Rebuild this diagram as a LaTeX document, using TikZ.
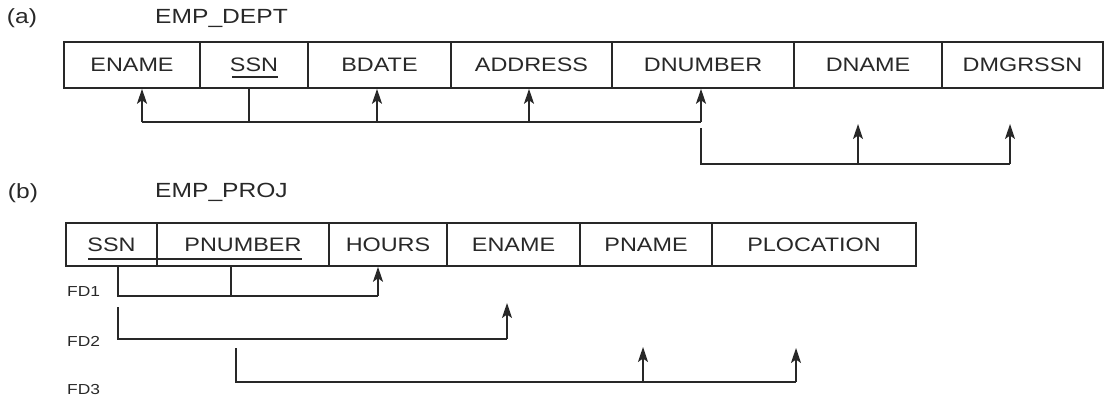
\documentclass[tikz,border=0pt]{standalone}
\usepackage{fontspec}
\setmainfont{Liberation Sans}[FakeStretch=1.2]
\usetikzlibrary{arrows.meta}
\definecolor{ink}{RGB}{40,40,40}
\tikzset{
  cell/.style={draw=ink, line width=1.6pt, minimum height=46pt, inner sep=0pt, text=ink, font=\fontsize{19.5}{22}\selectfont, anchor=center},
  lbl/.style={inner sep=0pt, text=ink, font=\fontsize{20.5}{22}\selectfont},
  fdl/.style={inner sep=0pt, text=ink, font=\fontsize{14.5}{16}\selectfont, anchor=west},
  ln/.style={draw=ink, line width=1.6pt},
  arr/.style={draw=ink, line width=1.6pt, -{Stealth[length=15pt,width=10pt,inset=3.5pt]}},
  ul/.style={draw=ink, line width=1.3pt}
}
\begin{document}
\begin{tikzpicture}[x=1pt,y=-1pt]
\useasboundingbox (0,0) rectangle (1105,397);
% (a)
\node[lbl] (la) at (22,18) {(a)};
\node[lbl, anchor=west] (ta) at (155,18) {EMP\_DEPT};
\node[cell, minimum width=136pt] (a1) at (132,65) {ENAME};
\node[cell, minimum width=108pt] (a2) at (254,65) {SSN};
\node[cell, minimum width=143pt] (a3) at (379.5,65) {BDATE};
\node[cell, minimum width=161pt] (a4) at (531.5,65) {ADDRESS};
\node[cell, minimum width=182pt] (a5) at (703,65) {DNUMBER};
\node[cell, minimum width=148pt] (a6) at (868,65) {DNAME};
\node[cell, minimum width=161pt] (a7) at (1022.5,65) {DMGRSSN};
\draw[ul] (232,77) -- (278,77);
% FD on SSN
\coordinate (p1) at (142,122);
\coordinate (p2) at (249,122);
\coordinate (p3) at (377,122);
\coordinate (p4) at (529,122);
\coordinate (p5) at (701,122);
\draw[ln] (a2.south -| p2) -- (p2);
\draw[ln] (p1) -- (p5);
\draw[arr] (p1) -- (a1.south -| p1);
\draw[arr] (p3) -- (a3.south -| p3);
\draw[arr] (p4) -- (a4.south -| p4);
\draw[arr] (p5) -- (a5.south -| p5);
% FD on DNUMBER
\coordinate (q0) at (701,128);
\coordinate (q1) at (701,164);
\coordinate (q2) at (858,164);
\coordinate (q3) at (1010,164);
\coordinate (r2) at (858,124);
\coordinate (r3) at (1010,124);
\draw[ln] (q0) -- (q1) -- (q3);
\draw[arr] (q2) -- (r2);
\draw[arr] (q3) -- (r3);
% (b)
\node[lbl] (lb) at (23,193) {(b)};
\node[lbl, anchor=west] (tb) at (155,192) {EMP\_PROJ};
\node[cell, minimum height=43pt, minimum width=91pt] (b1) at (111.5,244.5) {SSN};
\node[cell, minimum height=43pt, minimum width=172pt] (b2) at (243,244.5) {PNUMBER};
\node[cell, minimum height=43pt, minimum width=118pt] (b3) at (388,244.5) {HOURS};
\node[cell, minimum height=43pt, minimum width=133pt] (b4) at (513.5,244.5) {ENAME};
\node[cell, minimum height=43pt, minimum width=132pt] (b5) at (646,244.5) {PNAME};
\node[cell, minimum height=43pt, minimum width=204pt] (b6) at (814,244.5) {PLOCATION};
\draw[ul] (88,259) -- (302,259);
\node[fdl] (f1) at (67,292) {FD1};
\node[fdl] (f2) at (67,341) {FD2};
\node[fdl] (f3) at (67,389) {FD3};
% FD1
\coordinate (u1) at (118,296);
\coordinate (u2) at (231,296);
\coordinate (u3) at (378,296);
\draw[ln] (b1.south -| u1) -- (u1) -- (u3);
\draw[ln] (b2.south -| u2) -- (u2);
\draw[arr] (u3) -- (b3.south -| u3);
% FD2
\coordinate (v0) at (118,307);
\coordinate (v1) at (118,339);
\coordinate (v2) at (507,339);
\coordinate (w2) at (507,303);
\draw[ln] (v0) -- (v1) -- (v2);
\draw[arr] (v2) -- (w2);
% FD3
\coordinate (x0) at (236,348);
\coordinate (x1) at (236,382);
\coordinate (x2) at (643,382);
\coordinate (x3) at (796,382);
\coordinate (y2) at (643,347);
\coordinate (y3) at (796,348);
\draw[ln] (x0) -- (x1) -- (x3);
\draw[arr] (x2) -- (y2);
\draw[arr] (x3) -- (y3);
\end{tikzpicture}
\end{document}
